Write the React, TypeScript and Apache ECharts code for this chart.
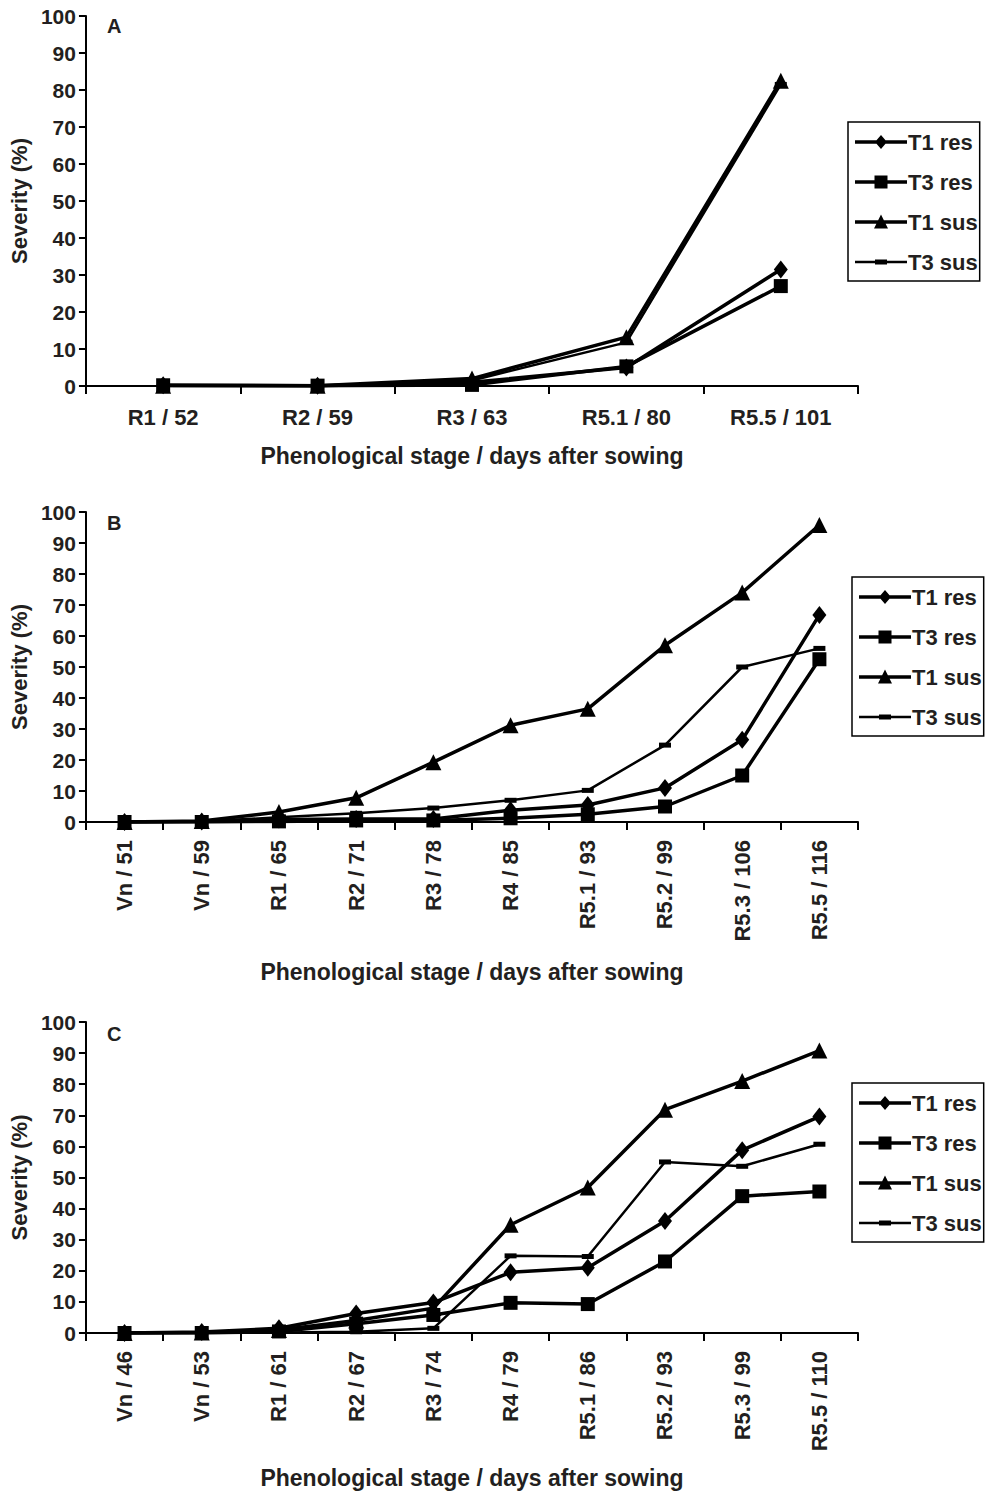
import React, { useEffect, useRef } from "react";
import * as echarts from "echarts";

const seriesNames = ["T1 res", "T3 res", "T1 sus", "T3 sus"];
const xTitle = "Phenological stage / days after sowing";
const yTitle = "Severity (%)";
const panelLetters = ["A", "B", "C"];

const catsA = ["R1 / 52", "R2 / 59", "R3 / 63", "R5.1 / 80", "R5.5 / 101"];
const aT1res = [0.2, 0.1, 1.0, 5.0, 31.5];
const aT3res = [0.2, 0.1, 0.3, 5.3, 27.0];
const aT1sus = [0.1, 0.1, 2.0, 13.2, 82.5];
const aT3sus = [0.1, 0.1, 1.5, 11.8, 81.5];

const catsB = ["Vn / 51", "Vn / 59", "R1 / 65", "R2 / 71", "R3 / 78", "R4 / 85", "R5.1 / 93", "R5.2 / 99", "R5.3 / 106", "R5.5 / 116"];
const bT1res = [0, 0.2, 0.8, 1.0, 1.0, 3.8, 5.5, 11.0, 26.5, 66.8];
const bT3res = [0, 0, 0.2, 0.5, 0.5, 1.2, 2.5, 5.0, 15.0, 52.5];
const bT1sus = [0, 0.3, 3.2, 7.8, 19.3, 31.2, 36.5, 57.0, 74.0, 95.8];
const bT3sus = [0, 0.2, 1.5, 2.8, 4.5, 7.0, 10.2, 24.8, 50.0, 56.0];

const catsC = ["Vn / 46", "Vn / 53", "R1 / 61", "R2 / 67", "R3 / 74", "R4 / 79", "R5.1 / 86", "R5.2 / 93", "R5.3 / 99", "R5.5 / 110"];
const cT1res = [0, 0.3, 1.5, 6.3, 9.8, 19.5, 21.0, 36.0, 58.8, 69.6];
const cT3res = [0, 0, 0.5, 3.0, 5.8, 9.7, 9.3, 23.0, 44.0, 45.5];
const cT1sus = [0, 0.2, 1.0, 4.0, 8.0, 34.8, 46.8, 71.8, 81.0, 90.8];
const cT3sus = [0, 0, 0.2, 0.4, 1.5, 24.8, 24.6, 55.0, 53.6, 60.7];

const yTicks = { min: 0, max: 100, interval: 10 };

const FONT = '"Liberation Sans", Arial, Helvetica, sans-serif';
const TXT = "#231f20";

const panels = [
  { cats: catsA, data: [aT1res, aT3res, aT1sus, aT3sus], top: 16, height: 370, rotate: 0, nameGap: 58, legendTop: 122, legendLeft: 848, letterTop: 16 },
  { cats: catsB, data: [bT1res, bT3res, bT1sus, bT3sus], top: 512, height: 310, rotate: 90, nameGap: 138, legendTop: 577, legendLeft: 852, letterTop: 513 },
  { cats: catsC, data: [cT1res, cT3res, cT1sus, cT3sus], top: 1022, height: 311, rotate: 90, nameGap: 133, legendTop: 1083, legendLeft: 852, letterTop: 1024 },
];

const symbolStyles: any[] = [
  { symbol: "diamond", symbolSize: [14, 18], width: 3.5 },
  { symbol: "rect", symbolSize: 14, width: 3.5 },
  { symbol: "triangle", symbolSize: 16, width: 3.5 },
  { symbol: "rect", symbolSize: [12, 5], width: 2.5 },
];

// legend icons: line with marker in the middle (52 x 18 box)
const legendIcons = [
  "path://M0,0L0.01,0L0,0.01Z M52,18L51.99,18L52,17.99Z M0,7.3L52,7.3L52,10.7L0,10.7Z M26,2L32,9L26,16L20,9Z",
  "path://M0,0L0.01,0L0,0.01Z M52,18L51.99,18L52,17.99Z M0,7.3L52,7.3L52,10.7L0,10.7Z M19.5,2.5L32.5,2.5L32.5,15.5L19.5,15.5Z",
  "path://M0,0L0.01,0L0,0.01Z M52,18L51.99,18L52,17.99Z M0,7.3L52,7.3L52,10.7L0,10.7Z M26,1.5L33,15.5L19,15.5Z",
  "path://M0,0L0.01,0L0,0.01Z M52,18L51.99,18L52,17.99Z M0,7.8L52,7.8L52,10.2L0,10.2Z M20,6.5L32,6.5L32,11.5L20,11.5Z",
];

function buildOption() {
  const grid = panels.map((p) => ({ left: 83, right: 127, top: p.top, height: p.height, containLabel: false }));
  const xAxis = panels.map((p, i) => ({
    type: "category",
    gridIndex: i,
    data: p.cats,
    boundaryGap: true,
    axisLine: { show: true, lineStyle: { color: "#000", width: 2 } },
    axisTick: { show: true, length: 8, lineStyle: { color: "#000", width: 2 } },
    splitLine: { show: false },
    axisLabel: {
      rotate: p.rotate,
      margin: p.rotate ? 18 : 20,
      fontSize: 22,
      fontWeight: "bold",
      fontFamily: FONT,
      color: TXT,
      interval: 0,
    },
    name: xTitle,
    nameLocation: "middle",
    nameGap: p.nameGap,
    nameTextStyle: { fontSize: 23, fontWeight: "bold", fontFamily: FONT, color: TXT },
  }));
  const yAxis = panels.map((p, i) => ({
    type: "value",
    gridIndex: i,
    min: yTicks.min,
    max: yTicks.max,
    interval: yTicks.interval,
    axisLine: { show: true, lineStyle: { color: "#000", width: 2 } },
    axisTick: { show: true, length: 7, lineStyle: { color: "#000", width: 2 } },
    splitLine: { show: false },
    axisLabel: { fontSize: 21, fontWeight: "bold", fontFamily: FONT, color: TXT, margin: 10 },
    name: yTitle,
    nameLocation: "middle",
    nameRotate: 90,
    nameGap: 48,
    nameTextStyle: { fontSize: 22, fontWeight: "bold", fontFamily: FONT, color: TXT },
  }));
  const series: any[] = [];
  panels.forEach((p, i) => {
    seriesNames.forEach((n, k) => {
      const s = symbolStyles[k];
      series.push({
        type: "line",
        name: n,
        xAxisIndex: i,
        yAxisIndex: i,
        data: p.data[k],
        symbol: s.symbol,
        symbolSize: s.symbolSize,
        showAllSymbol: true,
        lineStyle: { color: "#000", width: s.width },
        itemStyle: { color: "#000", borderWidth: 0 },
        z: 2 + k,
      });
    });
  });
  const legend = panels.map((p) => ({
    orient: "vertical",
    left: p.legendLeft,
    top: p.legendTop,
    data: seriesNames.map((n, k) => ({ name: n, icon: legendIcons[k] })),
    itemWidth: 52,
    itemHeight: 18,
    itemGap: 18,
    padding: [9, 2, 8, 7],
    borderColor: "#000",
    borderWidth: 1.5,
    selectedMode: false,
    itemStyle: { color: "#000", borderWidth: 0 },
    lineStyle: { width: 0 },
    textStyle: { fontSize: 22, fontWeight: "bold", fontFamily: FONT, color: TXT, lineHeight: 22, padding: [0, 0, 0, -4] },
  }));
  const graphic = panels.map((p, i) => ({
    type: "text",
    left: 107,
    top: p.letterTop,
    style: { text: panelLetters[i], font: `bold 20px ${FONT}`, fill: TXT },
  }));
  return {
    animation: false,
    backgroundColor: "#fff",
    grid,
    xAxis,
    yAxis,
    series,
    legend,
    graphic,
  };
}

export default function App() {
  const ref = useRef<HTMLDivElement>(null);
  useEffect(() => {
    document.body.style.margin = "0";
    const chart = echarts.init(ref.current!, null, { renderer: "svg" });
    chart.setOption(buildOption() as any);
    return () => chart.dispose();
  }, []);
  return <div ref={ref} style={{ width: 985, height: 1493 }} />;
}
